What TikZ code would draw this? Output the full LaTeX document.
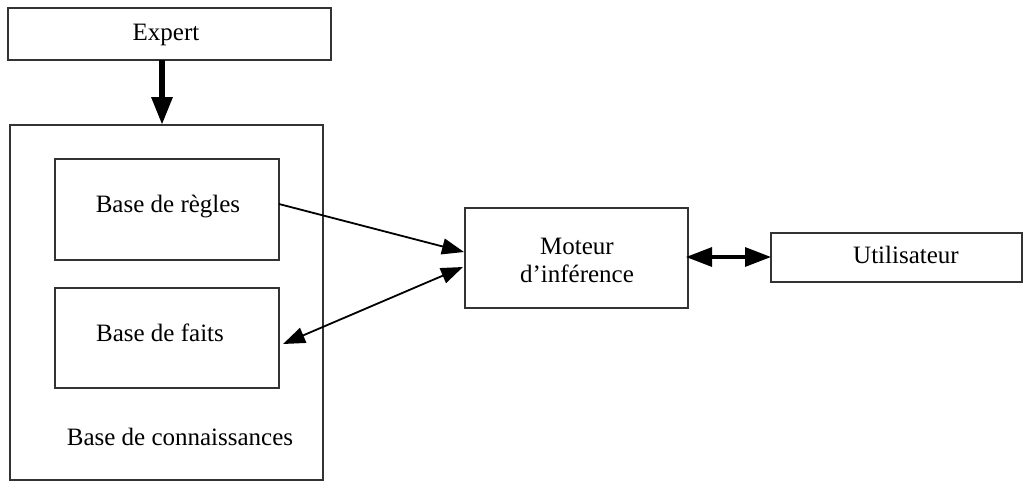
\documentclass[tikz,border=0pt]{standalone}
\usepackage{fontspec}
\setmainfont{Liberation Serif}
\usetikzlibrary{arrows.meta}
\tikzset{
  headtri/.tip={Triangle[length=11pt,width=8pt]},
  widehead/.tip={Triangle[length=13pt,width=9.5pt]},
  bighead/.tip={Triangle[length=14pt,width=10pt]}
}
\begin{document}
\begin{tikzpicture}[x=0.5pt,y=-0.5pt,
  box/.style={draw=black!80,line width=0.7pt},
  lbl/.style={font=\fontsize{12.5}{15}\selectfont,align=center},
  conn/.style={line width=0.9pt}]
\useasboundingbox (0,0) rectangle (1028,483);
% boxes
\draw[box] (8,8) rectangle (331,60);
\node[lbl] (expert) at (166,35) {Expert};
\draw[box] (10,125) rectangle (323,480);
\draw[box] (55,159) rectangle (279,260);
\node[lbl] (regles) at (168,207) {Base de règles};
\draw[box] (55,288) rectangle (279,388);
\node[lbl] (faits) at (160,333) {Base de faits};
\node[lbl] (connaissances) at (180,437) {Base de connaissances};
\draw[box] (465,208) rectangle (688,308);
\node[lbl] (moteur) at (577,260) {Moteur\\[-1pt]d’inférence};
\draw[box] (771,233) rectangle (1022,282);
\node[lbl] (user) at (906,255) {Utilisateur};
% connector anchors
\coordinate (e1) at (162,60);
\coordinate (e2) at (162,125);
\coordinate (r1) at (279,204);
\coordinate (m1) at (464,252);
\coordinate (f1) at (283,344);
\coordinate (m2) at (463,267);
\coordinate (m3) at (686,257);
\coordinate (u1) at (771,257);
% connectors
\draw[line width=3pt,-bighead] (e1) -- (e2);
\draw[conn,-headtri] (r1) -- (m1);
\draw[conn,headtri-headtri] (f1) -- (m2);
\draw[line width=1.6pt,widehead-widehead] (m3) -- (u1);
\end{tikzpicture}
\end{document}
